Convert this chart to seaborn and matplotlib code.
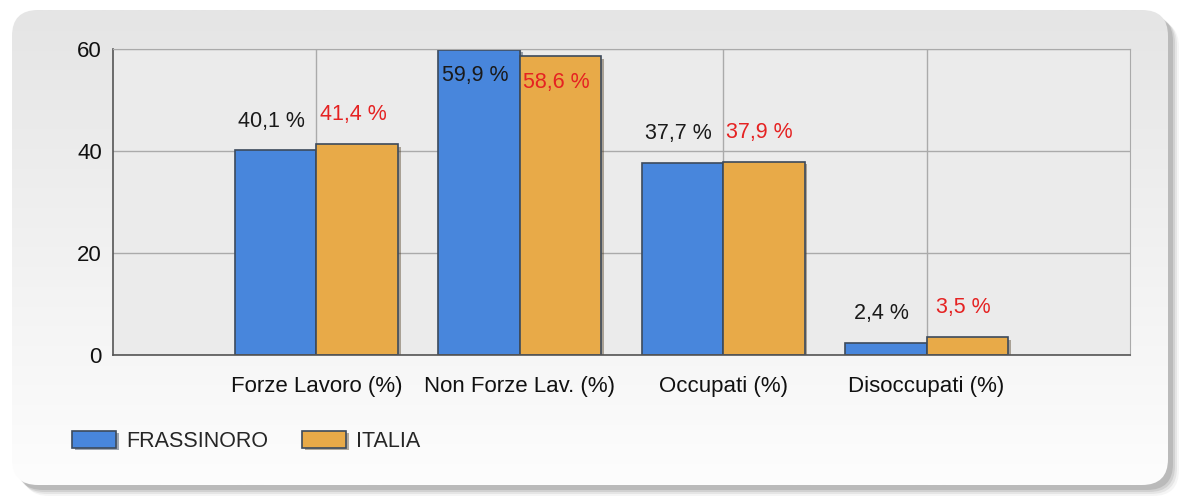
import numpy as np
import pandas as pd
import matplotlib
matplotlib.use('Agg')
import matplotlib.pyplot as plt
import matplotlib.patheffects as pe
from matplotlib.patches import FancyBboxPatch
import seaborn as sns

# data
categorie = ['Forze Lavoro (%)', 'Non Forze Lav. (%)', 'Occupati (%)', 'Disoccupati (%)']
frassinoro = [40.1, 59.9, 37.7, 2.4]
italia = [41.4, 58.6, 37.9, 3.5]
aree = ['FRASSINORO', 'ITALIA']

blu = '#4886dc'
arancio = '#e8aa48'
bordo = '#3c4a5c'

df = pd.DataFrame({
    'categoria': categorie * 2,
    'valore': frassinoro + italia,
    'area': [aree[0]] * len(categorie) + [aree[1]] * len(categorie),
})

sns.set_style('white')
plt.rcParams['font.family'] = ['Liberation Sans', 'DejaVu Sans']

W, H = 1192, 498
fig = plt.figure(figsize=(W / 100, H / 100), dpi=100)
fig.patch.set_facecolor('white')

# rounded grey panel with shadow and vertical gradient
bg = fig.add_axes([0, 0, 1, 1], zorder=0)
bg.set_xlim(0, W)
bg.set_ylim(H, 0)
bg.axis('off')
for i, a in enumerate([0.06, 0.1, 0.15, 0.2]):
    d = 10 - i * 2
    sh = FancyBboxPatch((13 + d, 11 + d), 1156, 475, boxstyle='round,pad=0,rounding_size=26',
                        facecolor='#606060', edgecolor='none', alpha=a)
    bg.add_patch(sh)
panel = FancyBboxPatch((12, 10), 1156, 475, boxstyle='round,pad=0,rounding_size=26',
                       facecolor='none', edgecolor='none')
bg.add_patch(panel)
grad = np.linspace(0, 1, 256).reshape(-1, 1)
img = bg.imshow(grad, extent=(12, 1168, 485, 10), cmap=matplotlib.colors.LinearSegmentedColormap.from_list(
    'g', ['#e5e5e5', '#fdfdfd']), aspect='auto', zorder=1)
img.set_clip_path(panel)

# main chart
ax = fig.add_axes([113 / W, 1 - 355 / H, (1130 - 113) / W, (355 - 49) / H], zorder=2)
ax.set_facecolor('#ebebeb')

sns.barplot(data=df, x='categoria', y='valore', hue='area', palette=[blu, arancio],
            saturation=1, width=0.8, edgecolor=bordo, linewidth=1.2, ax=ax)

ombra = [pe.SimplePatchShadow(offset=(2, -2), alpha=0.4), pe.Normal()]
for p in ax.patches:
    p.set_path_effects(ombra)

ax.set_xlim(-1, 4)
ax.set_ylim(0, 60)
ax.set_yticks([0, 20, 40, 60])
ax.set_xlabel('')
ax.set_ylabel('')
ax.grid(True, color='#aaaaaa', linewidth=1)
ax.set_axisbelow(True)
for s in ['top', 'right']:
    ax.spines[s].set_color('#aaaaaa')
for s in ['left', 'bottom']:
    ax.spines[s].set_color('#555555')
    ax.spines[s].set_linewidth(1.2)
ax.tick_params(axis='y', length=5, width=1.2, color='#333333', pad=3, labelsize=16, labelcolor='#111111')
ax.tick_params(axis='x', length=5, width=1.2, color='#333333', pad=10, labelsize=16, labelcolor='#111111')
ax.set_xticks([4], minor=True)
ax.tick_params(axis='x', which='minor', length=5, width=1.2, color='#333333')

# value labels
colori_testo = ['#1a1a1a', '#e52222']
for k, cont in enumerate(ax.containers):
    for bar, v in zip(cont, [frassinoro, italia][k]):
        x = bar.get_x() + bar.get_width() / 2 - 0.02
        dentro = v > 52
        ax.annotate(f'{v:.1f} %'.replace('.', ','), (x, v), xytext=(0, -19 if dentro else 21),
                    textcoords='offset points', ha='center', va='center',
                    fontsize=15.5, color=colori_testo[k], zorder=5)

handles, labels = ax.get_legend_handles_labels()
leg = ax.legend(handles, labels, loc='center left', bbox_to_anchor=(72 / W, 1 - 441 / H),
                bbox_transform=fig.transFigure, ncol=2, frameon=False, fontsize=15.5,
                handlelength=2.05, handleheight=0.84, handletextpad=0.45, columnspacing=1.6,
                borderpad=0, borderaxespad=0)
for h in leg.legend_handles:
    h.set_path_effects(ombra)
    h.set_edgecolor(bordo)

fig.savefig('out.png', dpi=100)
